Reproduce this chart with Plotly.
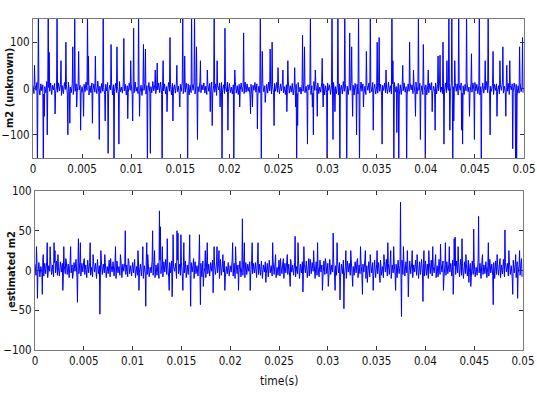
import numpy as np
import plotly.graph_objects as go

# ---------------- data ----------------
n_samples = 500
dt = 0.0001  # s, background sample spacing

# measured m2 (unknown): background band samples (hand-read)
top_band = [
 6,-11,9,-4,13,-8,3,-14,10,-5,8,-12,4,-9,15,-10,2,-6,12,-13,7,-3,11,-10,5,
 -8,12,-5,9,-15,6,-11,13,-2,8,-12,14,-7,3,-9,11,-13,5,-6,10,-9,12,-3,7,-10,
 4,-12,9,-7,14,-4,8,-14,6,-9,12,-5,10,-8,3,-11,16,-9,5,-10,11,-6,2,-13,9,
 -5,13,-10,7,-3,12,-14,8,-6,11,-9,4,-12,15,-7,3,-10,13,-5,9,-14,6,-8,12,-4,
 10,-13,5,-9,14,-6,3,-11,12,-8,7,-15,9,-4,11,-12,6,-7,13,-10,4,-9,15,-5,8,
 -11,6,-3,12,-9,14,-13,7,-5,10,-12,4,-8,13,-6,9,-14,11,-3,8,-10,12,-7,5,-13,
 9,-6,14,-11,3,-8,12,-5,10,-14,7,-9,11,-4,13,-12,6,-10,4,-7,15,-9,8,-3,12,
 -10,5,-13,9,-6,11,-4,14,-12,7,-8,10,-15,6,-3,12,-9,13,-5,8,-11,4,-7,14,-6,
 11,-9,3,-12,8,-5,15,-10,6,-13,9,-4,12,-7,5,-11,14,-8,10,-6,3,-14,9,-12,7,
 -4,13,-8,10,-14,5,-9,12,-3,11,-7,6,-13,9,-10,14,-5,8,-12,4,-9,11,-6,13,-8,
 7,-12,10,-5,12,-9,4,-13,8,-3,14,-10,6,-8,11,-14,5,-4,9,-11,13,-7,3,-12,10,
 -6,14,-9,5,-12,8,-3,11,-13,6,-10,15,-4,9,-7,12,-11,3,-8,13,-5,10,-14,6,-9,
 12,-4,8,-13,6,-10,13,-7,4,-11,9,-14,10,-3,7,-12,15,-6,11,-9,5,-13,8,-4,14,
 -9,7,-14,11,-5,9,-12,3,-8,14,-6,10,-11,5,-13,8,-4,12,-10,6,-7,13,-3,9,-12,
 5,-10,13,-6,9,-15,7,-4,12,-9,3,-11,14,-8,6,-12,10,-5,13,-7,4,-10,11,-14,8,
 -13,9,-5,12,-8,4,-14,10,-6,13,-3,8,-11,7,-9,14,-12,5,-4,11,-8,6,-13,10,-5,
 8,-14,6,-9,11,-3,13,-10,5,-7,12,-12,9,-5,14,-8,3,-11,10,-6,12,-9,7,-4,13,
 -7,11,-12,4,-9,13,-6,10,-14,8,-4,12,-10,6,-13,9,-5,14,-7,3,-11,10,-8,12,-3,
 13,-5,9,-11,7,-14,4,-8,12,-10,6,-3,15,-9,8,-12,5,-6,11,-13,9,-4,10,-7,6,
 -12,8,-4,13,-10,5,-9,14,-6,11,-13,7,-3,10,-8,12,-5,9,-14,6,-10,13,-7,4,-9,
]
# spike events: position in sample units (between samples) and amplitude
top_spike_pos = [
 1,4,5,10,11,14,15,16,22,24,28,33,35,37,40,42,44,46,48,51,55,56,60,63,67,
 71,73,76,79,82,85,87,92,96,99,101,102,107,108,112,114,116,119,124,126,131,132,136,139,142,
 146,149,152,154,157,161,164,166,167,170,177,180,182,184,187,190,192,195,198,204,205,210,214,221,223,
 228,231,232,233,236,241,243,245,249,254,258,259,266,267,268,269,274,276,279,282,284,285,287,289,294,
 295,299,304,305,307,310,312,317,319,322,324,325,329,331,332,336,339,343,346,350,352,355,359,365,366,
 367,370,372,376,380,383,387,389,392,394,397,399,402,406,409,412,414,417,418,421,423,424,426,427,428,
 429,433,436,437,441,444,446,449,454,456,460,463,465,468,472,475,478,481,482,485,488,491,492,495,498,
]
top_spike_val = [
 50,-170,170,-170,-60,-100,170,78,-55,170,60,100,-100,-75,90,170,-40,80,-90,-60,170,70,-75,70,-110,
 170,-70,-140,95,-170,90,-120,108,-65,60,-70,130,170,-60,95,85,-170,-140,40,55,-170,60,-50,110,-70,
 50,-40,170,70,-170,170,170,90,-110,60,40,-50,-80,170,60,-40,-170,130,-90,-170,40,-40,120,-55,-40,
 -87,170,-170,80,-30,85,100,-80,45,40,-50,60,45,-40,-170,-80,115,90,-120,170,-40,-100,40,-60,65,
 -40,-170,170,-110,-50,170,-170,170,-170,120,90,-60,-100,170,-170,-40,80,170,-90,100,110,-120,40,170,60,
 -170,-95,-170,50,-170,100,40,-60,170,-110,95,-170,40,-50,-90,70,72,100,-120,60,170,-90,170,-170,-70,
 60,170,-90,-120,170,-60,75,-110,170,-170,60,170,-100,80,-60,60,90,-60,50,60,-130,-170,-170,90,110,
]

# estimated m2: background band samples (hand-read)
bot_band = [
 8,-6,12,-3,10,-8,5,-2,14,-7,9,-4,11,-9,6,-1,13,-5,7,-8,10,-3,12,-6,4,
 -7,11,-2,9,-10,6,-4,13,-5,8,-9,12,-3,7,-6,10,-1,14,-8,5,-4,11,-7,9,-2,
 12,-5,7,-9,13,-3,10,-6,4,-8,11,-2,9,-10,14,-4,6,-7,12,-5,8,-3,10,-9,5,
 -4,13,-8,6,-2,11,-7,9,-10,12,-3,5,-6,14,-9,8,-1,10,-5,7,-8,13,-4,6,-7,
 10,-3,14,-9,5,-6,12,-2,8,-7,11,-10,6,-4,13,-5,9,-8,4,-3,12,-6,10,-9,7,
 -6,9,-10,13,-4,7,-8,11,-2,14,-5,6,-9,10,-3,12,-7,5,-1,9,-10,13,-4,8,-6,
 11,-8,5,-3,12,-9,7,-5,14,-6,10,-2,8,-10,11,-4,6,-7,13,-3,9,-8,12,-5,4,
 -9,12,-4,8,-7,10,-1,13,-8,6,-5,11,-3,9,-10,14,-6,7,-2,12,-9,5,-4,10,-7,
 6,-2,13,-7,9,-10,11,-4,7,-3,12,-8,5,-6,14,-9,10,-5,8,-1,11,-7,13,-4,9,
 -3,10,-9,14,-5,8,-6,12,-10,7,-2,11,-4,9,-8,13,-3,6,-7,12,-5,10,-9,4,-6,
 13,-7,6,-4,11,-10,9,-3,12,-5,8,-9,14,-2,7,-6,10,-8,5,-4,13,-10,8,-3,11,
 -5,8,-3,12,-9,6,-7,14,-4,10,-1,9,-10,11,-6,5,-8,13,-2,7,-9,12,-5,10,-4,
 9,-10,14,-5,7,-2,12,-8,6,-6,11,-3,10,-9,8,-4,13,-7,5,-10,12,-2,9,-6,14,
 -8,5,-6,11,-3,13,-9,7,-4,12,-7,8,-2,14,-10,6,-5,11,-8,9,-3,10,-6,13,-9,
 7,-4,10,-8,13,-6,5,-9,11,-2,14,-7,9,-5,12,-10,7,-3,10,-6,8,-9,13,-4,6,
 -10,13,-5,9,-7,11,-3,6,-8,12,-4,10,-9,7,-2,13,-6,8,-10,11,-5,14,-3,9,-7,
 12,-6,8,-10,10,-4,13,-7,5,-3,11,-9,6,-8,14,-5,9,-2,12,-10,7,-6,11,-4,8,
 -2,9,-7,13,-9,6,-5,12,-3,10,-8,14,-6,5,-10,11,-4,8,-7,13,-2,9,-9,12,-5,
 10,-8,4,-6,12,-3,9,-10,13,-5,7,-4,11,-9,6,-7,14,-3,8,-6,10,-10,12,-5,7,
 -6,11,-9,7,-4,14,-8,10,-2,9,-7,12,-5,6,-10,13,-3,8,-9,11,-4,7,-6,10,-8,
]
bot_spike_pos = [
 1,2,7,8,12,15,19,20,23,28,29,31,36,38,43,44,46,50,56,59,66,67,71,77,82,
 87,92,95,105,106,110,113,114,115,120,122,127,128,130,135,137,140,141,145,146,149,151,152,158,159,
 162,168,169,172,174,176,182,183,186,188,192,194,202,205,208,212,214,220,222,228,236,243,246,251,254,
 258,261,266,269,274,275,280,285,289,294,297,300,305,307,309,312,316,318,323,325,330,333,335,338,340,
 343,346,350,353,357,361,364,367,369,374,375,377,381,382,386,391,397,398,403,407,410,415,418,420,424,
 428,429,430,433,437,441,444,446,449,454,458,464,469,473,476,481,485,489,492,494,496,498,
]
bot_spike_val = [
 30,-35,-30,20,35,30,35,25,20,-25,30,15,30,-10,-40,40,35,15,35,20,-55,25,20,15,30,
 20,50,15,25,-25,30,-45,35,20,50,25,75,55,30,40,-25,-33,45,50,47,45,-25,35,45,-45,
 15,45,-43,-20,25,35,-28,30,30,25,20,-25,35,30,-25,65,35,-25,35,35,-15,35,20,15,15,
 20,-20,43,35,-27,30,15,25,35,-25,15,-20,47,-25,35,-37,-48,25,25,-20,15,30,-30,25,-15,
 20,-25,25,-15,20,35,25,30,-25,86,-58,30,25,-33,25,20,-39,25,25,30,20,33,-25,35,30,
 -30,40,42,30,40,20,-15,-20,52,68,20,35,-43,20,15,51,25,-30,20,-35,25,15,
]

def build(band, pos, val):
    """Merge background samples and spike events into one time-ordered record."""
    t = np.concatenate([np.arange(len(band)) * dt, (np.array(pos) + 0.5) * dt])
    y = np.concatenate([np.array(band, float), np.array(val, float)])
    order = np.argsort(t, kind="stable")
    return t[order], y[order]

t_top, m2_unknown = build(top_band, top_spike_pos, top_spike_val)
t_bot, m2_est = build(bot_band, bot_spike_pos, bot_spike_val)

# ---------------- figure ----------------
W, H = 537, 394

def px(x):
    return x / W

def py(y):
    return 1 - y / H

fig = go.Figure()
line = dict(color="#0000ff", width=1, simplify=False)
fig.add_trace(go.Scatter(x=t_top, y=m2_unknown, mode="lines", line=line,
                         xaxis="x", yaxis="y", hoverinfo="skip"))
fig.add_trace(go.Scatter(x=t_bot, y=m2_est, mode="lines", line=line,
                         xaxis="x2", yaxis="y2", hoverinfo="skip"))

FONT = "DejaVu Sans Condensed, Liberation Sans Narrow, Arial Narrow, sans-serif"
tickfont = dict(family=FONT, size=11.5, color="#111")
axis_common = dict(showline=True, linecolor="#7a7a7a", linewidth=1, mirror="ticks",
                   ticks="inside", ticklen=4, tickcolor="#333", tickwidth=1,
                   showgrid=False, zeroline=False, tickfont=tickfont, automargin=False)

xticks = [0, 0.005, 0.01, 0.015, 0.02, 0.025, 0.03, 0.035, 0.04, 0.045, 0.05]
xticktext = ["0", "0.005", "0.01", "0.015", "0.02", "0.025", "0.03", "0.035", "0.04", "0.045", "0.05"]
xrange = [0, 0.05000001]

fig.update_layout(
    width=W, height=H, margin=dict(l=0, r=0, t=0, b=0, pad=0, autoexpand=False),
    paper_bgcolor="white", plot_bgcolor="white", showlegend=False,
    xaxis=dict(domain=[px(33), px(524)], range=xrange, tickvals=xticks, ticktext=xticktext,
               anchor="y", **axis_common),
    yaxis=dict(domain=[py(158), py(19)], range=[-150, 150], tickvals=[-100, 0, 100],
               anchor="x", **axis_common),
    xaxis2=dict(domain=[px(35), px(523)], range=xrange, tickvals=xticks, ticktext=xticktext,
                anchor="y2", **axis_common),
    yaxis2=dict(domain=[py(350), py(191)], range=[-100, 100], tickvals=[-100, -50, 0, 50, 100],
                anchor="x2", **axis_common),
)

titlefont = dict(family=FONT, size=11, color="#111")
fig.add_annotation(text="<b>m2 (unknown)</b>", xref="paper", yref="paper",
                   x=px(9), y=py(88), xanchor="center", yanchor="middle",
                   textangle=-90, showarrow=False, font=titlefont)
fig.add_annotation(text="<b>estimated m2</b>", xref="paper", yref="paper",
                   x=px(11), y=py(270), xanchor="center", yanchor="middle",
                   textangle=-90, showarrow=False, font=titlefont)
fig.add_annotation(text="time(s)", xref="paper", yref="paper",
                   x=px(279), y=py(381), xanchor="center", yanchor="middle",
                   showarrow=False, font=dict(family=FONT, size=12, color="#111"))

# remove the default 8 px page margin so the figure fills the window exactly
fig.write_html("out.html", config={"displayModeBar": False},
               post_script="document.body.style.margin='0px';")
